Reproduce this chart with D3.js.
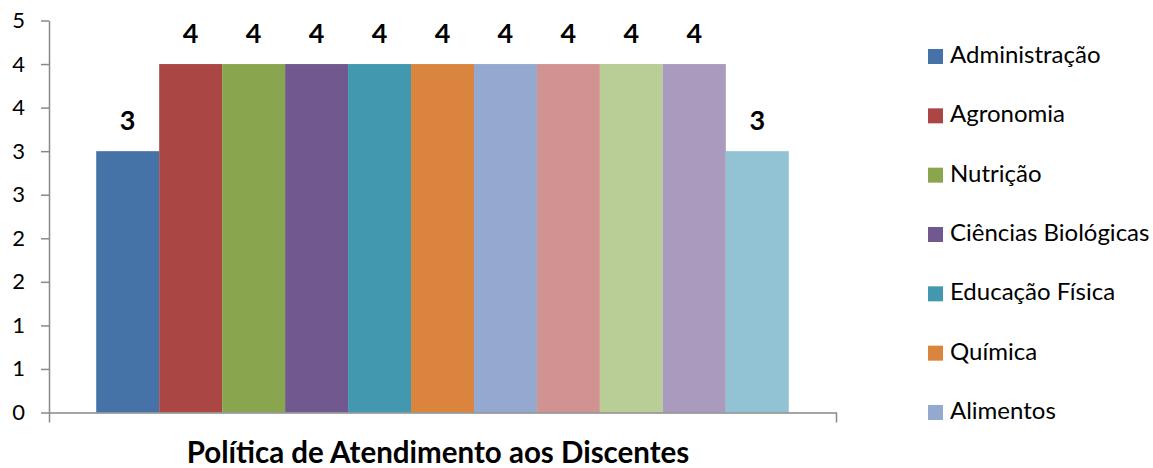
<!DOCTYPE html>
<html>
<head>
<meta charset="utf-8">
<script src="https://cdn.jsdelivr.net/npm/d3@7"></script>
<style>
  html, body { margin: 0; padding: 0; background: #fff; }
  svg { display: block; }
  text { font-family: Lato, "Open Sans", sans-serif; }
</style>
</head>
<body>
<svg id="chart" width="1153" height="468"></svg>
<script>
// ---- data ----
const seriesNames = [
  "Administração", "Agronomia", "Nutrição", "Ciências Biológicas",
  "Educação Física", "Química", "Alimentos",
  "Curso 8", "Curso 9", "Curso 10", "Curso 11"
];
const seriesValues = [3, 4, 4, 4, 4, 4, 4, 4, 4, 4, 3];
const seriesColors = [
  "#4572A7", "#AA4643", "#89A54E", "#71588F", "#4198AF", "#DB843D",
  "#93A9CF", "#D19392", "#B9CD96", "#A99BBD", "#91C3D5"
];
const legendCount = 7; // only the first seven entries fit in the legend
const yTickValues = [0, 0.5, 1, 1.5, 2, 2.5, 3, 3.5, 4, 4.5];
const yTickLabels = ["0", "1", "1", "2", "2", "3", "3", "4", "4", "5"];
const chartTitle = "Política de Atendimento aos Discentes";

// ---- layout ----
const svg = d3.select("#chart");
const plot = { left: 49, right: 836, top: 20.5, bottom: 412.5 };
const axisColor = "#898989";

const y = d3.scaleLinear().domain([0, 4.5]).range([plot.bottom, plot.top]);
const x = d3.scaleBand()
  .domain(seriesNames)
  .range([plot.left, plot.right])
  .paddingInner(0)
  .paddingOuter(0.75);

// bars
svg.append("g").selectAll("rect")
  .data(seriesNames)
  .join("rect")
  .attr("x", d => x(d))
  .attr("width", x.bandwidth())
  .attr("y", (d, i) => y(seriesValues[i]))
  .attr("height", (d, i) => y(0) - y(seriesValues[i]))
  .attr("fill", (d, i) => seriesColors[i]);

// data labels
svg.append("g").selectAll("text")
  .data(seriesNames)
  .join("text")
  .attr("x", d => x(d) + x.bandwidth() / 2)
  .attr("y", (d, i) => y(seriesValues[i]) - 21)
  .attr("text-anchor", "middle")
  .attr("font-size", 27)
  .attr("font-weight", "bold")
  .attr("fill", "#000")
  .text((d, i) => seriesValues[i]);

// y axis
const yAxis = d3.axisLeft(y)
  .tickValues(yTickValues)
  .tickFormat((d, i) => yTickLabels[i])
  .tickSize(8)
  .tickPadding(16)
  .tickSizeOuter(0);
const gy = svg.append("g")
  .attr("transform", `translate(${plot.left},0)`)
  .call(yAxis);
gy.select(".domain").attr("stroke", axisColor).attr("stroke-width", 1.5);
gy.selectAll(".tick line").attr("stroke", axisColor).attr("stroke-width", 1.5);
gy.selectAll(".tick text")
  .attr("font-size", 22)
  .attr("font-family", "Lato, sans-serif")
  .attr("fill", "#000");

// x axis (single category, ticks at both ends)
const xEdge = d3.scaleLinear().domain([0, 1]).range([plot.left, plot.right]);
const xAxis = d3.axisBottom(xEdge)
  .tickValues([0, 1])
  .tickFormat("")
  .tickSize(10)
  .tickSizeOuter(0);
const gx = svg.append("g")
  .attr("transform", `translate(0,${plot.bottom})`)
  .call(xAxis);
gx.select(".domain").attr("stroke", axisColor).attr("stroke-width", 1.5);
gx.selectAll(".tick line").attr("stroke", axisColor).attr("stroke-width", 1.5);

// title under the axis
svg.append("text")
  .attr("x", 438)
  .attr("y", 462.5)
  .attr("text-anchor", "middle")
  .attr("font-size", 29.5)
  .attr("font-weight", "bold")
  .attr("fill", "#000")
  .text(chartTitle);

// legend
const legendRow = d3.scaleLinear().domain([0, 6]).range([49, 405]);
const legend = svg.append("g").selectAll("g")
  .data(seriesNames.slice(0, legendCount))
  .join("g")
  .attr("transform", (d, i) => `translate(928,${legendRow(i)})`);
legend.append("rect")
  .attr("width", 15)
  .attr("height", 15)
  .attr("fill", (d, i) => seriesColors[i]);
legend.append("text")
  .attr("x", 22)
  .attr("y", 14)
  .attr("font-size", 24)
  .attr("fill", "#000")
  .text(d => d);
</script>
</body>
</html>
